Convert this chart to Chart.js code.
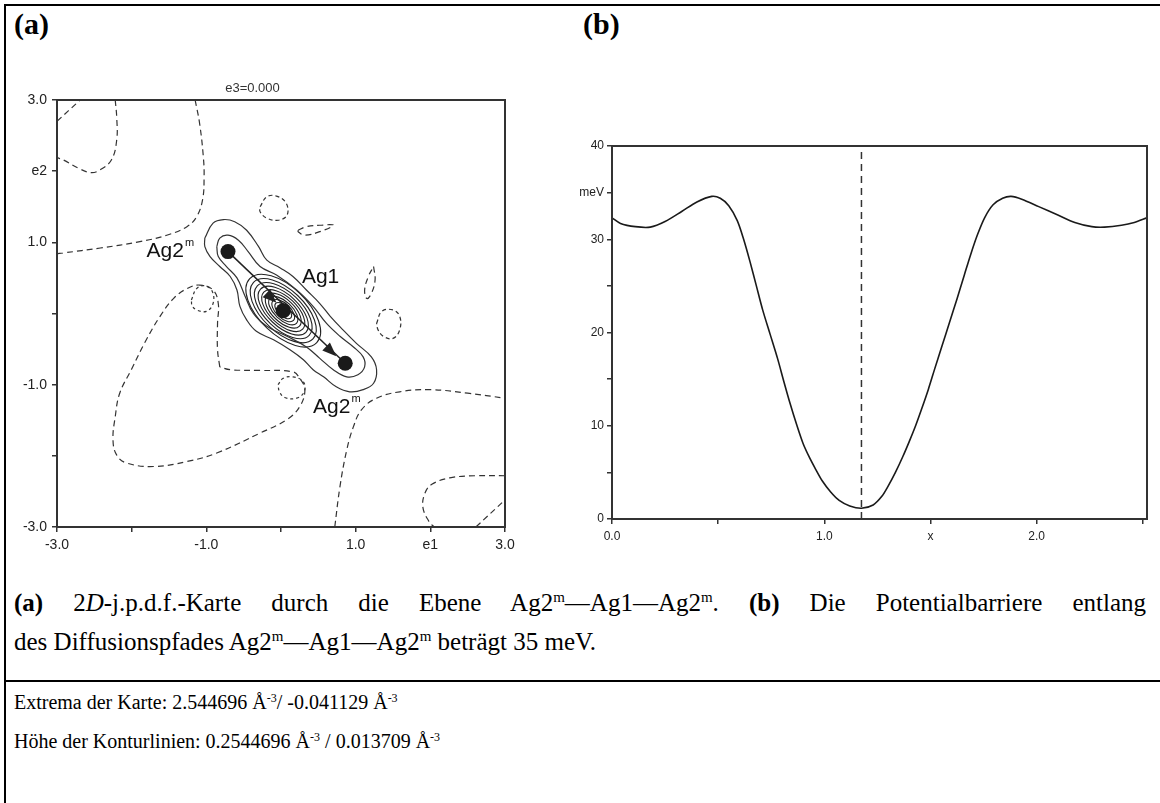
<!DOCTYPE html>
<html>
<head>
<meta charset="utf-8">
<script src="https://cdn.jsdelivr.net/npm/chart.js@4.4.0/dist/chart.umd.min.js"></script>
<style>
  html, body { margin: 0; padding: 0; background: #fff; }
  body { width: 1160px; height: 803px; position: relative; overflow: hidden;
         font-family: "Liberation Serif", "Times New Roman", serif; color: #000; }
  .rule { position: absolute; background: #000; }
  .plabel { position: absolute; font-weight: bold; font-size: 30px; line-height: 34px; }
  .box { position: absolute; }
  .cap { position: absolute; left: 14px; width: 1132px; font-size: 25px; line-height: 29px; white-space: nowrap; }
  .cap.just { white-space: normal; text-align: justify; text-align-last: justify; }
  .cap.small { font-size: 20px; line-height: 24px; }
  sup { font-size: 0.6em; vertical-align: 0; position: relative; top: -0.6em; }
</style>
</head>
<body>
<div class="rule" style="left:4px;top:4px;width:1156px;height:2px"></div>
<div class="rule" style="left:4px;top:4px;width:2px;height:799px"></div>
<div class="rule" style="left:4px;top:680px;width:1156px;height:2px"></div>

<div class="plabel" style="left:14px;top:7px">(a)</div>
<div class="plabel" style="left:583px;top:7px">(b)</div>

<div class="box" style="left:0;top:60px"><canvas id="chart-map" width="530" height="520"></canvas></div>
<div class="box" style="left:550px;top:120px"><canvas id="chart-barrier" width="610" height="440"></canvas></div>

<div class="cap just" style="top:588px"><b>(a)</b> 2<i>D</i>-j.p.d.f.-Karte durch die Ebene Ag2<sup>m</sup>—Ag1—Ag2<sup>m</sup>. <b>(b)</b> Die Potentialbarriere entlang</div>
<div class="cap" style="top:627px">des Diffusionspfades Ag2<sup>m</sup>—Ag1—Ag2<sup>m</sup> beträgt 35 meV.</div>
<div class="cap small" style="top:690px">Extrema der Karte: 2.544696 Å<sup>-3</sup>/ -0.041129 Å<sup>-3</sup></div>
<div class="cap small" style="top:729px">Höhe der Konturlinien: 0.2544696 Å<sup>-3</sup> / 0.013709 Å<sup>-3</sup></div>

<script>
// ── Panel (a): axes ───────────────────────────────────
const mapTicks   = [-3, -2, -1, 0, 1, 2, 3];
const mapXLabels = ['-3.0', '', '-1.0', '', '1.0', 'e1', '3.0'];
const mapYLabels = ['-3.0', '', '-1.0', '', '1.0', 'e2', '3.0'];

// ── Panel (a): atoms, arrow, labels (e1/e2 units) ─────
const atoms      = [[-0.71, 0.87], [0.03, 0.04], [0.86, -0.70]];   // Ag2m, Ag1, Ag2m
const arrowTips  = [[-0.06, 0.15], [0.74, -0.60]];
const atomLabels = ['Ag2', 'Ag1', 'Ag2'];
const atomSups   = ['m', '', 'm'];
const labelAt    = [[-1.80, 0.88], [0.28, 0.51], [0.43, -1.31]];

// nested contours round Ag1 (semi-axes, e1 units)
const ringMajor = [0.62, 0.55, 0.48, 0.42, 0.36, 0.30, 0.245, 0.19, 0.14];
const ringMinor = [0.32, 0.28, 0.245, 0.21, 0.18, 0.15, 0.12, 0.095, 0.07];

// positive contours
const solidOuter = [[-1.02,1.06],[-0.91,1.27],[-0.77,1.32],[-0.62,1.29],[-0.46,1.17],[-0.30,0.94],[-0.19,0.75],[-0.01,0.64],[0.16,0.52],[0.34,0.33],[0.52,0.14],[0.66,-0.04],[0.83,-0.23],[1.01,-0.42],[1.21,-0.61],[1.28,-0.79],[1.24,-0.98],[1.10,-1.07],[0.92,-1.10],[0.74,-1.03],[0.57,-0.89],[0.43,-0.79],[0.30,-0.65],[0.12,-0.51],[-0.10,-0.37],[-0.33,-0.25],[-0.46,-0.09],[-0.55,0.10],[-0.59,0.33],[-0.68,0.52],[-0.82,0.66],[-0.95,0.80],[-1.02,0.94],[-1.02,1.06]];
const solidInner = [[-0.86,0.94],[-0.82,1.06],[-0.71,1.10],[-0.57,1.03],[-0.44,0.87],[-0.28,0.66],[-0.06,0.54],[0.21,0.33],[0.43,0.10],[0.61,-0.14],[0.79,-0.32],[0.97,-0.47],[1.10,-0.61],[1.12,-0.75],[1.03,-0.86],[0.88,-0.89],[0.70,-0.79],[0.52,-0.63],[0.34,-0.47],[0.08,-0.32],[-0.19,-0.18],[-0.37,0.00],[-0.48,0.24],[-0.59,0.50],[-0.73,0.66],[-0.84,0.80],[-0.86,0.94]];

// negative contours (dashed)
const dashCorner  = [[-3.0,2.70],[-2.69,3.0]];
const dashTopLeft = [[-2.22,3.0],[-2.20,2.75],[-2.20,2.44],[-2.27,2.16],[-2.42,2.02],[-2.54,1.98],[-2.69,2.03],[-2.92,2.16],[-3.0,2.19]];
const dashUpper   = [[-1.15,3.0],[-1.09,2.67],[-1.04,2.20],[-1.03,1.92],[-1.05,1.60],[-1.13,1.36],[-1.26,1.22],[-1.53,1.10],[-1.89,1.01],[-2.42,0.92],[-2.92,0.85],[-3.0,0.84]];
const dashSliver1 = [[0.23,1.17],[0.34,1.22],[0.52,1.24],[0.70,1.24],[0.52,1.15],[0.32,1.10],[0.23,1.15],[0.23,1.17]];
const dashSliver2 = [[1.24,0.66],[1.26,0.47],[1.21,0.28],[1.15,0.21],[1.12,0.33],[1.17,0.52],[1.24,0.66]];
const dashLoop    = [[-0.82,-0.75],[-0.85,-0.51],[-0.85,-0.14],[-0.84,0.14],[-0.91,0.33],[-1.09,0.40],[-1.26,0.35],[-1.44,0.21],[-1.62,-0.04],[-1.82,-0.40],[-2.00,-0.78],[-2.16,-1.12],[-2.22,-1.45],[-2.25,-1.78],[-2.20,-1.99],[-2.07,-2.10],[-1.71,-2.15],[-1.26,-2.08],[-0.86,-1.96],[-0.28,-1.68],[0.08,-1.49],[0.25,-1.31],[0.32,-1.07],[0.25,-0.91],[0.16,-0.82],[-0.28,-0.80],[-0.68,-0.79],[-0.82,-0.75]];
const dashRight   = [[0.72,-3.0],[0.79,-2.43],[0.88,-1.92],[0.97,-1.59],[1.08,-1.35],[1.28,-1.19],[1.59,-1.10],[2.0,-1.07],[2.5,-1.12],[3.0,-1.19]];
const dashLowRight = [[3.0,-2.28],[2.6,-2.28],[2.26,-2.31],[2.02,-2.40],[1.93,-2.52],[1.90,-2.72],[1.98,-2.92],[2.05,-3.0]];
const dashLowCorner = [[2.61,-3.0],[3.0,-2.62]];
const circTop   = [[-0.28,1.50],[-0.19,1.64],[-0.06,1.65],[0.07,1.55],[0.08,1.38],[-0.04,1.31],[-0.19,1.34],[-0.28,1.43],[-0.28,1.50]];
const circRight = [[1.28,-0.14],[1.35,0.03],[1.50,0.05],[1.59,-0.04],[1.59,-0.23],[1.50,-0.35],[1.37,-0.32],[1.30,-0.23],[1.28,-0.14]];
const circLeft  = [[-1.20,0.19],[-1.13,0.35],[-1.02,0.39],[-0.92,0.31],[-0.91,0.14],[-1.00,0.03],[-1.13,0.05],[-1.19,0.11],[-1.20,0.19]];
const circLow   = [[-0.04,-1.00],[0.03,-0.91],[0.16,-0.89],[0.30,-0.96],[0.31,-1.10],[0.21,-1.19],[0.05,-1.18],[-0.02,-1.10],[-0.04,-1.00]];

// ── Panel (b): potential along the path ───────────────
const pathX   = [0, 0.04, 0.11, 0.18, 0.25, 0.33, 0.40, 0.47, 0.51, 0.55, 0.59, 0.62, 0.65, 0.68, 0.71, 0.745, 0.78, 0.81, 0.84, 0.87, 0.90, 0.93, 0.96, 0.99, 1.03, 1.07, 1.12, 1.175, 1.23, 1.27, 1.30, 1.335, 1.37, 1.40, 1.43, 1.46, 1.49, 1.52, 1.555, 1.59, 1.625, 1.66, 1.69, 1.72, 1.755, 1.795, 1.84, 1.88, 1.93, 2.01, 2.10, 2.18, 2.26, 2.32, 2.40, 2.46, 2.52];
const pathMeV = [32.3, 31.7, 31.35, 31.3, 31.9, 33.0, 34.0, 34.6, 34.4, 33.6, 32.0, 30.0, 27.6, 25.0, 22.4, 19.8, 17.2, 14.7, 12.3, 10.1, 8.1, 6.6, 5.3, 4.1, 2.9, 2.0, 1.4, 1.15, 1.5, 2.4, 3.5, 5.0, 6.7, 8.3, 10.0, 11.9, 13.9, 16.1, 18.6, 21.1, 23.6, 26.2, 28.4, 30.4, 32.3, 33.7, 34.4, 34.6, 34.3, 33.5, 32.6, 31.8, 31.35, 31.3, 31.5, 31.8, 32.3];
const pathMid = 1.175;
const barrierXTicks  = [0, 0.5, 1, 1.5, 2];
const barrierXLabels = ['0.0', '', '1.0', 'x', '2.0'];
const barrierYTicks  = [0, 5, 10, 15, 20, 25, 30, 35, 40];
const barrierYLabels = ['0', '', '10', '', '20', '', '30', 'meV', '40'];

// ── Shared helpers ────────────────────────────────────
Chart.defaults.font.family = 'Arial, "Liberation Sans", sans-serif';
Chart.defaults.color = '#222';
const toPts = a => a.map(([x, y]) => ({ x, y }));
const lookup = (ticks, labels) => v => {
  const i = ticks.findIndex(t => Math.abs(t - v) < 1e-6);
  return i < 0 ? '' : labels[i];
};
const axis = (min, max, step, labels, size, pad, fit) => ({
  type: 'linear', min, max,
  border: { display: false },
  grid: { drawOnChartArea: false, drawTicks: true, tickLength: 5, color: '#333', lineWidth: 1.5 },
  ticks: { stepSize: step, includeBounds: false, autoSkip: false, maxRotation: 0, padding: pad,
           color: '#222', font: { size }, callback: labels },
  afterFit: fit
});
const frame = {
  id: 'frame',
  afterDraw(chart) {
    const { ctx, chartArea: a } = chart;
    ctx.save();
    ctx.strokeStyle = '#333';
    ctx.lineWidth = 2;
    ctx.strokeRect(a.left, a.top, a.right - a.left, a.bottom - a.top);
    ctx.restore();
  }
};
const contour = (pts, dash, width) => ({
  data: toPts(pts), showLine: true, pointRadius: 0, fill: false, tension: 0.4,
  borderColor: '#333', borderWidth: width || 1.2, borderDash: dash, order: 2
});

// ── Panel (a): ring / arrowhead / label overlay ───────
const mapOverlay = {
  id: 'mapOverlay',
  beforeDatasetsDraw(chart) {
    const { ctx, scales: { x, y } } = chart;
    const unit = Math.abs(x.getPixelForValue(1) - x.getPixelForValue(0));
    const p0 = [x.getPixelForValue(atoms[0][0]), y.getPixelForValue(atoms[0][1])];
    const p2 = [x.getPixelForValue(atoms[2][0]), y.getPixelForValue(atoms[2][1])];
    const ang = Math.atan2(p2[1] - p0[1], p2[0] - p0[0]);
    const cx = x.getPixelForValue(atoms[1][0]), cy = y.getPixelForValue(atoms[1][1]);
    ctx.save();
    ctx.strokeStyle = '#222';
    ctx.lineWidth = 1.1;
    ringMajor.forEach((r, i) => {
      ctx.beginPath();
      ctx.ellipse(cx, cy, r * unit, ringMinor[i] * unit, ang, 0, Math.PI * 2);
      ctx.stroke();
    });
    ctx.restore();
  },
  afterDatasetsDraw(chart) {
    const { ctx, scales: { x, y } } = chart;
    const p0 = [x.getPixelForValue(atoms[0][0]), y.getPixelForValue(atoms[0][1])];
    const p2 = [x.getPixelForValue(atoms[2][0]), y.getPixelForValue(atoms[2][1])];
    const ang = Math.atan2(p2[1] - p0[1], p2[0] - p0[0]);
    const c = Math.cos(ang), s = Math.sin(ang);
    ctx.save();
    ctx.fillStyle = '#222';
    arrowTips.forEach(([tx, ty]) => {
      const px = x.getPixelForValue(tx), py = y.getPixelForValue(ty);
      ctx.beginPath();
      ctx.moveTo(px, py);
      ctx.lineTo(px - 14 * c + 5.5 * s, py - 14 * s - 5.5 * c);
      ctx.lineTo(px - 14 * c - 5.5 * s, py - 14 * s + 5.5 * c);
      ctx.closePath();
      ctx.fill();
    });
    ctx.fillStyle = '#111';
    ctx.textBaseline = 'middle';
    atomLabels.forEach((t, i) => {
      const px = x.getPixelForValue(labelAt[i][0]), py = y.getPixelForValue(labelAt[i][1]);
      ctx.font = '21px Arial, "Liberation Sans", sans-serif';
      ctx.fillText(t, px, py);
      if (atomSups[i]) {
        const w = ctx.measureText(t).width;
        ctx.font = '11px Arial, "Liberation Sans", sans-serif';
        ctx.fillText(atomSups[i], px + w + 1, py - 8);
      }
    });
    ctx.restore();
  }
};

// ── Panel (a): 2D j.p.d.f. map ────────────────────────
new Chart(document.getElementById('chart-map'), {
  type: 'scatter',
  data: {
    datasets: [
      { data: toPts(atoms), pointRadius: 7.5, pointBackgroundColor: '#1a1a1a', pointBorderWidth: 0, showLine: false, order: 0 },
      { data: toPts([atoms[0], atoms[2]]), showLine: true, pointRadius: 0, borderColor: '#222', borderWidth: 1.5, tension: 0, order: 1 },
      contour(solidOuter, [], 1.2),
      contour(solidInner, [], 1.2),
      contour(dashCorner, [6, 4]),
      contour(dashTopLeft, [6, 4]),
      contour(dashUpper, [6, 4]),
      contour(dashSliver1, [6, 4]),
      contour(dashSliver2, [6, 4]),
      contour(dashLoop, [6, 4]),
      contour(dashRight, [6, 4]),
      contour(dashLowRight, [6, 4]),
      contour(dashLowCorner, [6, 4]),
      contour(circTop, [4, 3]),
      contour(circRight, [4, 3]),
      contour(circLeft, [3, 3]),
      contour(circLow, [3, 3])
    ]
  },
  options: {
    responsive: false,
    animation: false,
    layout: { padding: { top: 20.4, right: 25, bottom: 0, left: 0 } },
    plugins: {
      legend: { display: false },
      tooltip: { enabled: false },
      title: { display: true, text: 'e3=0.000', color: '#333', font: { size: 13, weight: 'normal' }, padding: { top: 0, bottom: 4 } }
    },
    scales: {
      x: axis(-3, 3, 1, lookup(mapTicks, mapXLabels), 14, 5, s => { s.height = 53; }),
      y: axis(-3, 3, 1, lookup(mapTicks, mapYLabels), 14, 5, s => { s.width = 57; })
    }
  },
  plugins: [mapOverlay, frame]
});

// ── Panel (b): potential barrier ──────────────────────
new Chart(document.getElementById('chart-barrier'), {
  type: 'scatter',
  data: {
    datasets: [
      { data: pathX.map((v, i) => ({ x: v, y: pathMeV[i] })), showLine: true, pointRadius: 0,
        borderColor: '#1a1a1a', borderWidth: 1.6, tension: 0.3 },
      { data: [{ x: pathMid, y: 0 }, { x: pathMid, y: 40 }], showLine: true, pointRadius: 0,
        borderColor: '#333', borderWidth: 1.5, borderDash: [7, 5] }
    ]
  },
  options: {
    responsive: false,
    animation: false,
    layout: { padding: { top: 26, right: 13, bottom: 0, left: 0 } },
    plugins: { legend: { display: false }, tooltip: { enabled: false } },
    scales: {
      x: axis(0, 2.52, 0.5, lookup(barrierXTicks, barrierXLabels), 12, 5, s => { s.height = 41; }),
      y: axis(0, 40, 5, lookup(barrierYTicks, barrierYLabels), 12, 3, s => { s.width = 62; })
    }
  },
  plugins: [frame]
});
</script>
</body>
</html>
